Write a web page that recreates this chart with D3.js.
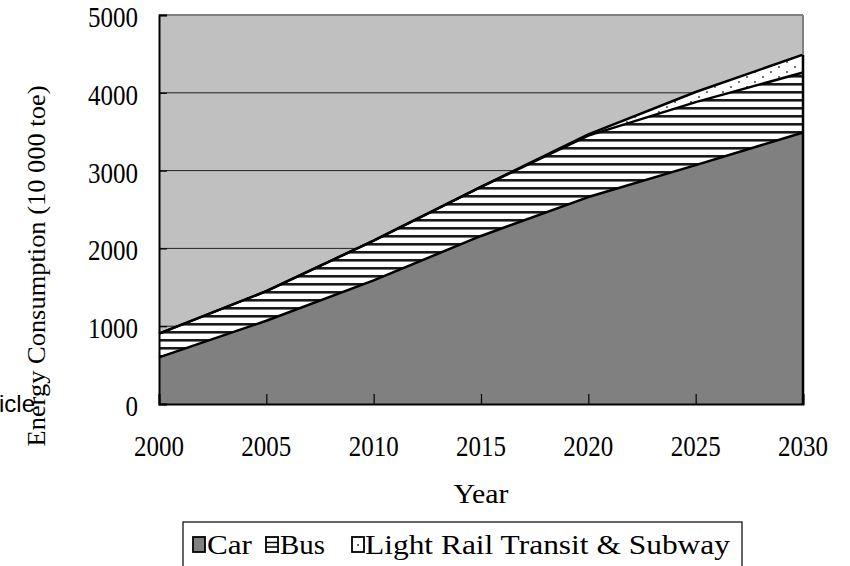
<!DOCTYPE html>
<html><head><meta charset="utf-8">
<script src="https://cdn.jsdelivr.net/npm/d3@7"></script>
<style>body{margin:0;background:#fff}svg{display:block}</style>
</head><body>
<svg id="c" width="850" height="566"></svg>
<script>
const years = [2000, 2005, 2010, 2015, 2020, 2025, 2030];
const car = [600, 1070, 1590, 2160, 2660, 3070, 3490];
const bus = [305, 380, 510, 630, 790, 810, 770];
const lrt = [0, 0, 0, 0, 15, 130, 230];
const yTicks = [0, 1000, 2000, 3000, 4000, 5000];
const seriesNames = ["Car", "Bus", "Light Rail Transit & Subway"];

const svg = d3.select("#c");
const L = 159, R = 803, T = 15, B = 404;
const x = d3.scaleLinear().domain([2000, 2030]).range([L, R]);
const y = d3.scaleLinear().domain([0, 5000]).range([B, T]);
const serif = "'Liberation Serif', 'DejaVu Serif', serif";

const defs = svg.append("defs");
const pb = defs.append("pattern").attr("id", "pbus").attr("patternUnits", "userSpaceOnUse")
  .attr("width", 8).attr("height", 8);
pb.append("rect").attr("width", 8).attr("height", 8).attr("fill", "#fff");
pb.append("rect").attr("y", 3).attr("width", 8).attr("height", 2.6).attr("fill", "#1a1a1a");
const pl = defs.append("pattern").attr("id", "plrt").attr("patternUnits", "userSpaceOnUse")
  .attr("width", 16).attr("height", 10);
pl.append("rect").attr("width", 16).attr("height", 10).attr("fill", "#fff");
pl.append("circle").attr("cx", 3).attr("cy", 2).attr("r", 1.1).attr("fill", "#555");
pl.append("circle").attr("cx", 11).attr("cy", 7).attr("r", 1.1).attr("fill", "#555");

// background
svg.append("rect").attr("x", L).attr("y", T).attr("width", R - L).attr("height", B - T).attr("fill", "#c0c0c0");
// grid
svg.append("g").selectAll("line").data(yTicks.filter(v => v > 0 && v < 5000)).join("line")
  .attr("x1", L).attr("x2", R).attr("y1", d => y(d)).attr("y2", d => y(d))
  .attr("stroke", "#222").attr("stroke-width", 1);

const data = years.map((yr, i) => ({ year: yr, Car: car[i], Bus: bus[i], LRT: lrt[i] }));
const stack = d3.stack().keys(["Car", "Bus", "LRT"])(data);
const fills = ["#808080", "url(#pbus)", "url(#plrt)"];
const area = d3.area().x(d => x(d.data.year)).y0(d => y(d[0])).y1(d => y(d[1]));
const topLine = d3.line().x(d => x(d.data.year)).y(d => y(d[1]));

svg.append("g").selectAll("path").data(stack).join("path")
  .attr("d", area).attr("fill", (d, i) => fills[i]);
svg.append("g").selectAll("path").data(stack).join("path")
  .attr("d", topLine).attr("fill", "none").attr("stroke", "#000").attr("stroke-width", 2.5)
  .attr("stroke-linejoin", "round");

// border top/right gray
svg.append("line").attr("x1", L).attr("x2", R).attr("y1", T).attr("y2", T).attr("stroke", "#808080").attr("stroke-width", 2);
svg.append("line").attr("x1", R).attr("x2", R).attr("y1", T).attr("y2", y(stack[2][6][1])).attr("stroke", "#808080").attr("stroke-width", 2);
svg.append("line").attr("x1", R).attr("x2", R).attr("y1", y(stack[2][6][1])).attr("y2", B).attr("stroke", "#000").attr("stroke-width", 2.5);

// axes
const xAxis = svg.append("g").attr("transform", `translate(0,${B})`)
  .call(d3.axisBottom(x).tickValues(years).tickSize(-10).tickFormat(""));
xAxis.select(".domain").attr("stroke", "#000").attr("stroke-width", 2);
xAxis.selectAll(".tick line").attr("stroke", "#000").attr("stroke-width", 1.2);
const yAxis = svg.append("g").attr("transform", `translate(${L},0)`)
  .call(d3.axisLeft(y).tickValues(yTicks).tickSize(-8).tickFormat(""));
yAxis.select(".domain").attr("stroke", "#000").attr("stroke-width", 2);
yAxis.selectAll(".tick line").attr("stroke", "#000").attr("stroke-width", 1.2);

// tick labels
svg.append("g").selectAll("text").data(years).join("text")
  .attr("x", d => x(d)).attr("y", 456).attr("text-anchor", "middle")
  .attr("font-family", serif).attr("font-size", 30)
  .attr("textLength", 50).attr("lengthAdjust", "spacingAndGlyphs")
  .text(d => d);
svg.append("g").selectAll("text").data(yTicks).join("text")
  .attr("x", 138).attr("y", d => y(d) + 12).attr("text-anchor", "end")
  .attr("font-family", serif).attr("font-size", 30)
  .attr("textLength", d => String(d).length * 12.5).attr("lengthAdjust", "spacingAndGlyphs")
  .text(d => d);

// axis titles
svg.append("text").attr("x", 481).attr("y", 503).attr("text-anchor", "middle")
  .attr("font-family", serif).attr("font-size", 27)
  .attr("textLength", 55).attr("lengthAdjust", "spacingAndGlyphs").text("Year");
svg.append("text").attr("font-family", "'Liberation Sans', Arial, sans-serif").attr("font-size", 24)
  .attr("x", -1).attr("y", 412).text("icle");
svg.append("text").attr("transform", "translate(45,266) rotate(-90)").attr("text-anchor", "middle")
  .attr("font-family", serif).attr("font-size", 26)
  .attr("textLength", 361).attr("lengthAdjust", "spacingAndGlyphs")
  .text("Energy Consumption (10 000 toe)");

// legend
svg.append("rect").attr("x", 183).attr("y", 522).attr("width", 559).attr("height", 70)
  .attr("fill", "#fff").attr("stroke", "#000").attr("stroke-width", 1.2);
const leg = [
  { sx: 193, tx: 207, tl: 45, fill: "#808080", name: seriesNames[0] },
  { sx: 266, tx: 280, tl: 45, fill: "#fff", name: seriesNames[1] },
  { sx: 352, tx: 365, tl: 365, fill: "#fff", name: seriesNames[2] }
];
const lg = svg.append("g");
leg.forEach((d, i) => {
  lg.append("rect").attr("x", d.sx).attr("y", 537).attr("width", 12).attr("height", 15)
    .attr("fill", d.fill).attr("stroke", "#000").attr("stroke-width", 1.8);
  if (i === 1) {
    [542.5, 547].forEach(yy => lg.append("line").attr("x1", d.sx).attr("x2", d.sx + 12)
      .attr("y1", yy).attr("y2", yy).attr("stroke", "#000").attr("stroke-width", 1.5));
  }
  if (i === 2) {
    lg.append("circle").attr("cx", d.sx + 6).attr("cy", 545).attr("r", 1).attr("fill", "#333");
  }
  lg.append("text").attr("x", d.tx).attr("y", 554)
    .attr("font-family", serif).attr("font-size", 27)
    .attr("textLength", d.tl).attr("lengthAdjust", "spacingAndGlyphs").text(d.name);
});
</script>
</body></html>
